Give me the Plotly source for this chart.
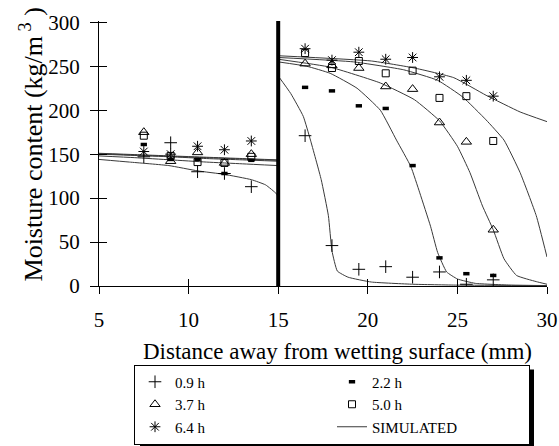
import plotly.graph_objects as go

FONT = "Liberation Serif"

# ---------------- data ----------------
x_meas = [7.5, 9, 10.5, 12, 13.5, 16.5, 18, 19.5, 21, 22.5, 24, 25.5, 27]
m_09 = [147, 163, 130, 128, 113, 171, 46, 19, 22, 10, 16, 2, 7]
m_22 = [161, 144, 144, 128, 143, 226, 222, 205, 202, 137, 32, 14, 12]
m_37 = [175, 142, 152, 140, 150, 253, 251, 248, 227, 224, 186, 164, 64]
m_50 = [171, 148, 141, 140, 147, 265, 248, 256, 242, 245, 214, 216, 165]
m_64 = [153, 150, 159, 155, 165, 270, 257, 266, 258, 260, 238, 234, 216]

sim_left_x = [5, 7, 9, 11, 13, 15]
sim_09_left_x = [5, 6.7, 8.9, 10.5, 12, 13.5, 14.3, 14.9, 15]
sim_09_left_y = [144, 141, 137, 131, 127, 121, 115, 105, 101]
sim_09_right_x = [15, 15.7, 16.4, 16.8, 17.4, 17.8, 18.0, 18.3, 18.9, 20.2, 22.5, 25, 30]
sim_09_right_y = [239, 219, 193, 166, 121, 80, 40, 17, 10, 4.5, 2, 1, 0.5]

sim_22_left_y = [148, 146, 143.5, 141, 139, 137]
sim_22_right_x = [15, 16.6, 17.9, 19.4, 20.7, 21.6, 22.4, 22.9, 23.5, 23.9, 24.4, 25, 26, 28, 30]
sim_22_right_y = [255, 250, 242, 225, 200, 166, 136, 106, 68, 38, 16, 8, 3, 1, 0.5]

sim_37_left_y = [150, 148.5, 147, 145, 143.5, 142]
sim_37_right_x = [15, 17.9, 20.7, 22.6, 24, 25, 25.7, 26.4, 27, 27.6, 28.3, 29.4, 30]
sim_37_right_y = [258, 249, 231, 212, 188, 159, 129, 91, 64, 31, 12, 5, 2]

sim_50_left_y = [150.5, 149, 147.5, 146, 144.5, 143]
sim_50_right_x = [15, 19.2, 22, 23.9, 25.3, 26.6, 27.6, 28.5, 29.4, 30]
sim_50_right_y = [260, 255, 246, 234, 215, 189, 166, 129, 80, 33]

sim_64_left_y = [151, 149.5, 148, 146.5, 145, 143.5]
sim_64_right_x = [15, 20.2, 22.6, 24.8, 26.6, 28.5, 30]
sim_64_right_y = [262, 256, 248, 237, 217, 198, 187]

boundary_x = 15
x_ticks = [5, 10, 15, 20, 25, 30]
y_ticks = [0, 50, 100, 150, 200, 250, 300]
labels = ["0.9 h", "2.2 h", "3.7 h", "5.0 h", "6.4 h", "SIMULATED"]

# ---------------- figure ----------------
fig = go.Figure()

sims = [
    (sim_09_left_x, sim_09_left_y, sim_09_right_x, sim_09_right_y),
    (sim_left_x, sim_22_left_y, sim_22_right_x, sim_22_right_y),
    (sim_left_x, sim_37_left_y, sim_37_right_x, sim_37_right_y),
    (sim_left_x, sim_50_left_y, sim_50_right_x, sim_50_right_y),
    (sim_left_x, sim_64_left_y, sim_64_right_x, sim_64_right_y),
]
for i, (lx, ly, rx, ry) in enumerate(sims):
    fig.add_trace(go.Scatter(
        x=list(lx) + [None] + list(rx), y=list(ly) + [None] + list(ry),
        mode="lines", line=dict(color="#3a3a3a", width=1, shape="spline", smoothing=0.4),
        name=labels[5], legendgroup="sim", showlegend=(i == 0), legendrank=6,
        connectgaps=False, hoverinfo="skip"))

marker_specs = [
    (m_09, dict(symbol="cross-thin", size=9, color="black", line=dict(width=1, color="black"))),
    (m_22, dict(symbol="line-ew", size=4.5, color="black", line=dict(width=3.5, color="black"))),
    (m_37, dict(symbol="triangle-up-open", size=9, color="black", line=dict(width=1, color="black"))),
    (m_50, dict(symbol="square-open", size=7, color="black", line=dict(width=1, color="black"))),
    (m_64, dict(symbol="asterisk-open", size=9, color="black", line=dict(width=1, color="black"))),
]
for i, (vals, mk) in enumerate(marker_specs):
    fig.add_trace(go.Scatter(x=x_meas, y=vals, mode="markers", marker=mk,
                             name=labels[i], legendrank=i + 1))

# invisible trace to bring up the overlay axes (crossing ticks)
fig.add_trace(go.Scatter(x=[x_ticks[0]], y=[y_ticks[0]], xaxis="x2", yaxis="y2",
                         mode="markers", marker=dict(opacity=0), showlegend=False,
                         hoverinfo="skip"))

# thick boundary line between the two layers
fig.add_shape(type="line", xref="x", yref="y", x0=boundary_x, x1=boundary_x,
              y0=0, y1=301.5, line=dict(color="black", width=4))

# legend drop shadow (paper coordinates)
fig.add_shape(type="rect", xref="paper", yref="paper", layer="below",
              x0=(140 - 99) / 448, x1=(534 - 99) / 448,
              y0=(286.5 - 370) / 265, y1=(286.5 - 470) / 265,
              line=dict(width=0), fillcolor="black")

tickfont = dict(family=FONT, size=21, color="black")
common = dict(showgrid=False, zeroline=False, tickcolor="black", tickwidth=1)
fig.update_layout(
    width=559, height=446,
    margin=dict(l=99, r=12, t=21, b=160, autoexpand=False),
    paper_bgcolor="white", plot_bgcolor="white",
    font=dict(family=FONT, color="black"),
    xaxis=dict(range=[5, 30], tickvals=x_ticks, ticks="outside", ticklen=7,
               ticklabelstandoff=8,
               showline=True, linecolor="black", linewidth=1, tickfont=tickfont, **common),
    yaxis=dict(range=[0, 301.5], tickvals=y_ticks, ticks="outside", ticklen=8,
               ticklabelstandoff=6,
               showline=True, linecolor="black", linewidth=1, tickfont=tickfont, **common),
    xaxis2=dict(range=[5, 30], tickvals=x_ticks, ticks="inside", ticklen=7, overlaying="x",
                anchor="y", side="bottom", showticklabels=False, showline=False, **common),
    yaxis2=dict(range=[0, 301.5], tickvals=y_ticks, ticks="inside", ticklen=8, overlaying="y",
                anchor="x", side="left", showticklabels=False, showline=False, **common),
    legend=dict(orientation="h", x=(134 - 99) / 448, y=(286.5 - 365) / 265,
                xanchor="left", yanchor="top",
                entrywidth=152, entrywidthmode="pixels",
                font=dict(family=FONT, size=15, color="black"),
                bgcolor="white", bordercolor="black", borderwidth=1,
                traceorder="normal"),
    showlegend=True,
)

fig.add_annotation(text="Distance away from wetting surface (mm)", xref="paper", yref="paper",
                   x=0.533, y=-0.247, xanchor="center", yanchor="middle", showarrow=False,
                   font=dict(family=FONT, size=23, color="black"))
fig.add_annotation(text="Moisture content (kg/m<sup> 3</sup> )", xref="paper", yref="paper",
                   x=-0.1496, y=0.534, xanchor="center", yanchor="middle", showarrow=False,
                   textangle=-90, font=dict(family=FONT, size=26, color="black"))

fig.write_html("out.html", config={"displayModeBar": False},
               post_script="document.body.style.margin='0px';")
